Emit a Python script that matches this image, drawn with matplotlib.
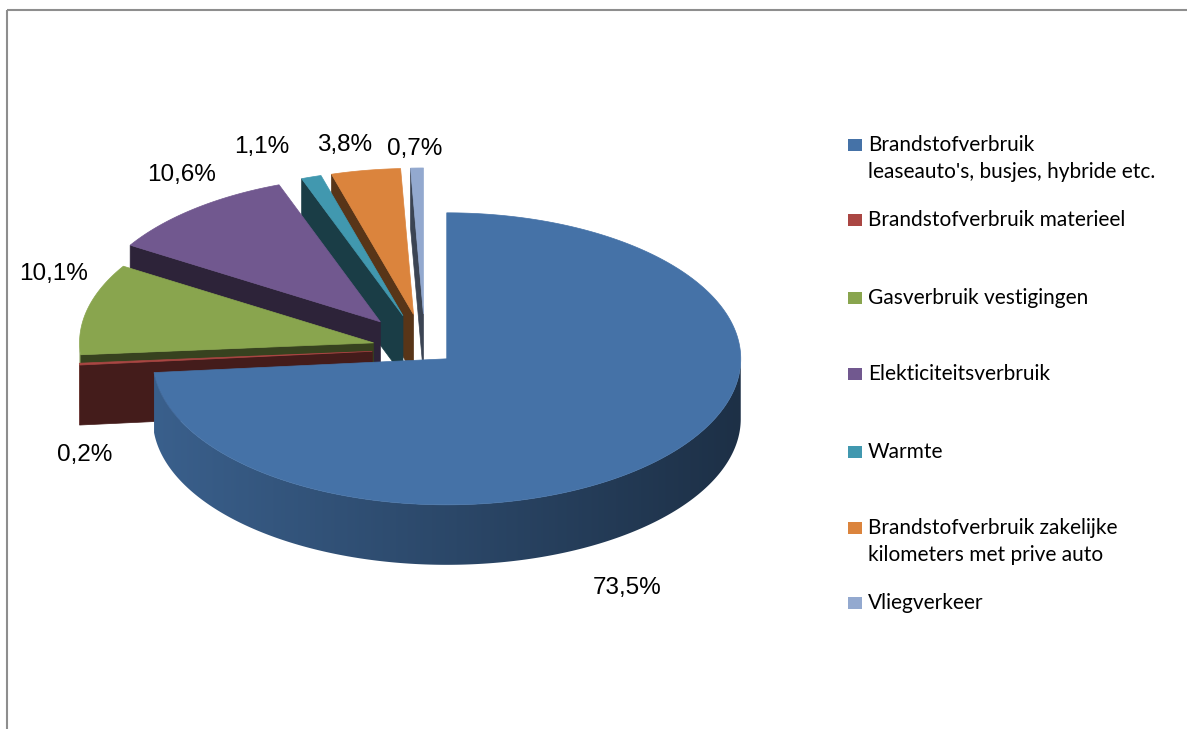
import numpy as np
import matplotlib
matplotlib.use("Agg")
import matplotlib.pyplot as plt
from matplotlib.patches import Polygon, Rectangle
from matplotlib.colors import to_rgb

# ---------------- data ----------------
categories = [
    "Brandstofverbruik\nleaseauto's, busjes, hybride etc.",
    "Brandstofverbruik materieel",
    "Gasverbruik vestigingen",
    "Elekticiteitsverbruik",
    "Warmte",
    "Brandstofverbruik zakelijke\nkilometers met prive auto",
    "Vliegverkeer",
]
values = [73.5, 0.2, 10.1, 10.6, 1.1, 3.8, 0.7]
pct_labels = [f"{v:.1f}%".replace(".", ",") for v in values]

# ---------------- style ----------------
top_colors = ["#4572A7", "#AA4643", "#89A54E", "#71588F", "#4198AF", "#DB843D", "#93A9CF"]
explode = [0.1, 0.18, 0.18, 0.24, 0.24, 0.24, 0.24]

W, H = 1187, 729
fig = plt.figure(figsize=(W / 100, H / 100), dpi=100)
ax = fig.add_axes([0, 0, 1, 1])
ax.set_xlim(0, W)
ax.set_ylim(H, 0)
ax.axis("off")

# chart border
ax.add_patch(Rectangle((7, 9.5), W + 10, H + 10, fill=False, edgecolor="#8E8E8E", lw=1.5))

cx, cy, rx, ry, depth = 425.0, 349.0, 294.0, 146.0, 60.0


def shade(c, f):
    r, g, b = to_rgb(c)
    return (r * f, g * f, b * f)


total = sum(values)
starts = []
cum = 0.0
for v in values:
    t1 = 90.0 - cum / total * 360.0
    t2 = 90.0 - (cum + v) / total * 360.0
    starts.append((t1, t2))
    cum += v

mids = [np.deg2rad((a + b) / 2) for a, b in starts]
order = sorted(range(len(values)), key=lambda i: -np.sin(mids[i]))


def pt(theta_deg, ox, oy, dz=0.0):
    t = np.deg2rad(theta_deg)
    return (cx + ox + rx * np.cos(t), cy + oy - ry * np.sin(t) + dz)


z = 2
for i in order:
    t1, t2 = starts[i]
    m = mids[i]
    ox = explode[i] * rx * np.cos(m)
    oy = -explode[i] * ry * np.sin(m)
    col = top_colors[i]
    dark = shade(col, 0.40)
    apex = (cx + ox, cy + oy)

    # radial faces
    for a, nrm in ((t1, t1 + 90), (t2, t2 - 90)):
        if np.sin(np.deg2rad(nrm)) < -1e-6:
            p = pt(a, ox, oy)
            poly = [apex, p, (p[0], p[1] + depth), (apex[0], apex[1] + depth)]
            ax.add_patch(Polygon(poly, closed=True, facecolor=dark, edgecolor=dark, lw=0.5, zorder=z))
    z += 1

    # outer wall (front half only), smooth horizontal gradient
    ths = np.linspace(t2, t1, max(6, int((t1 - t2) * 3)))
    front = [t for t in ths if np.sin(np.deg2rad(t)) <= 0]
    if len(front) >= 2:
        topp = [pt(t, ox, oy) for t in front]
        botp = [pt(t, ox, oy, depth) for t in front[::-1]]
        wall = Polygon(topp + botp, closed=True, facecolor="none", edgecolor="none", zorder=z)
        ax.add_patch(wall)
        xs = [p[0] for p in topp + botp]
        ys = [p[1] for p in topp + botp]
        x0, x1 = min(xs) - 1, max(xs) + 1
        y0, y1 = min(ys) - 1, max(ys) + 1
        xx = np.linspace(x0, x1, 400)
        cosv = np.clip((xx - cx - ox) / rx, -1, 1)
        f = 0.63 - 0.21 * cosv
        base = np.array(to_rgb(col))
        img = (f[:, None] * base[None, :])[None, :, :]
        im = ax.imshow(img, extent=(x0, x1, y1, y0), aspect="auto", interpolation="bilinear", zorder=z)
        im.set_clip_path(wall)
    z += 1

    # top face
    arc = [pt(t, ox, oy) for t in np.linspace(t1, t2, max(3, int((t1 - t2) * 2)))]
    ax.add_patch(Polygon([apex] + arc, closed=True, facecolor=col, edgecolor=col, lw=0.5, zorder=z))
    z += 1

ax.set_xlim(0, W)
ax.set_ylim(H, 0)

# percentage labels
label_pos = [(627, 588), (85, 455), (54, 274), (182, 175), (262, 147), (345, 145), (415, 149)]
for (x, y), s in zip(label_pos, pct_labels):
    ax.text(x, y, s, ha="center", va="center", fontsize=17.5,
            family=["Liberation Sans", "DejaVu Sans"], color="#000000", zorder=50)

# legend
leg_y = [145, 220, 298, 374, 452, 528, 603]
for yy, c, name in zip(leg_y, top_colors, categories):
    ax.add_patch(Rectangle((848, yy - 6), 14, 12, facecolor=c, edgecolor="none", zorder=50))
    ax.text(868, yy - 10, name, ha="left", va="top", fontsize=15, family=["Lato", "DejaVu Sans"],
            color="#000000", linespacing=1.45, zorder=50)

fig.savefig("out.png", dpi=100)
